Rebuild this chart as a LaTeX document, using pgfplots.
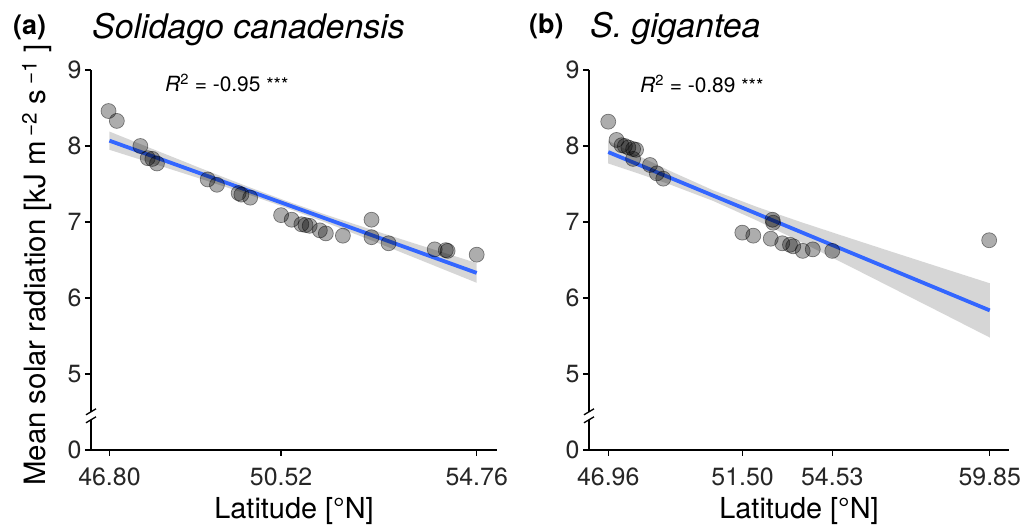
\documentclass[border=0pt]{standalone}
\usepackage{fontspec}
\setmainfont{TeX Gyre Heros}
\usepackage{pgfplots}
\usepackage{pgfplotstable}
\pgfplotsset{compat=1.18}

\definecolor{fitblue}{RGB}{51,102,255}
\definecolor{bandgray}{RGB}{153,153,153}

% Solidago canadensis: latitude [deg N], mean solar radiation
\pgfplotstableread{
lat   rad
46.78 8.46
46.96 8.33
47.47 8.00
47.63 7.84
47.73 7.83
47.83 7.77
48.93 7.56
49.13 7.49
49.60 7.38
49.66 7.36
49.85 7.32
50.52 7.09
50.75 7.03
50.96 6.97
51.05 6.96
51.14 6.95
51.36 6.89
51.49 6.85
51.86 6.82
52.48 7.03
52.48 6.80
52.85 6.72
53.85 6.64
54.09 6.63
54.13 6.62
54.76 6.57
}\canadensis

% fitted line
\pgfplotstableread{
lat   fit
46.80 8.070
54.76 6.330
}\canfit

% 95% confidence band: upper edge left to right, lower edge back
\pgfplotstableread{
lat   y
46.80 8.190
47.80 7.945
48.80 7.702
49.80 7.465
50.60 7.284
51.50 7.094
52.50 6.895
53.50 6.701
54.76 6.460
54.76 6.200
53.50 6.509
52.50 6.753
51.50 6.990
50.60 7.194
49.80 7.364
48.80 7.564
47.80 7.758
46.80 7.950
}\canband

% Solidago gigantea
\pgfplotstableread{
lat   rad
46.96 8.32
47.24 8.08
47.41 8.01
47.52 8.00
47.64 7.98
47.80 7.96
47.90 7.95
47.80 7.83
48.37 7.75
48.60 7.64
48.82 7.57
51.49 6.86
51.86 6.82
52.51 7.03
52.53 6.99
52.45 6.78
52.84 6.72
53.10 6.70
53.21 6.68
53.53 6.62
53.87 6.64
54.53 6.62
59.83 6.76
}\gigantea

\pgfplotstableread{
lat   fit
46.96 7.920
59.85 5.837
}\gigfit

\pgfplotstableread{
lat   y
46.96 8.070
48.00 7.869
49.00 7.680
50.50 7.418
52.00 7.196
53.50 6.995
55.00 6.803
56.50 6.613
58.00 6.425
59.85 6.194
59.85 5.480
58.00 5.847
56.50 6.143
55.00 6.439
53.50 6.731
52.00 7.016
50.50 7.278
49.00 7.500
48.00 7.635
46.96 7.770
}\gigband

\pgfplotsset{
  panel/.style={
    scale only axis,
    height=380bp,
    axis x line*=bottom,
    axis y line*=left,
    axis line style={line width=1.3bp, black},
    ymin=4, ymax=9,
    ytick={4,5,6,7,8,9},
    yticklabels={0,5,6,7,8,9},
    tick align=outside,
    major tick length=6bp,
    every tick/.style={black, line width=1.3bp},
    /pgf/number format/assume math mode=true,
    tick label style={font=\fontsize{25}{25}\selectfont, text=black!85},
    xticklabel style={yshift=-8bp},
    xlabel style={font=\fontsize{29}{29}\selectfont,
      at={(axis description cs:0.5,0)}, anchor=base, yshift=-68bp},
  },
  pts/.style={only marks, mark=*, mark size=7.5bp,
    mark options={fill=black, fill opacity=0.32, draw=black, draw opacity=0.45, line width=0.7bp}},
  fitline/.style={no marks, fitblue, line width=3.8bp},
  band/.style={fill=bandgray, fill opacity=0.4, draw=none, no marks},
}

% axis break drawn over the y axis line
\newcommand{\axisbreak}[1]{%
  \fill[white] ([xshift=-4bp,yshift=-4bp]#1) rectangle ([xshift=4bp,yshift=4bp]#1);
  \draw[line width=1.3bp] ([xshift=-5bp,yshift=-7bp]#1) -- ([xshift=5bp,yshift=-1bp]#1);
  \draw[line width=1.3bp] ([xshift=-5bp,yshift=1bp]#1) -- ([xshift=5bp,yshift=7bp]#1);
}

\begin{document}
\begin{tikzpicture}
\useasboundingbox (0,0) rectangle (1027bp,531bp);

% (a) Solidago canadensis
\begin{axis}[panel,
  at={(91bp,81bp)}, anchor=south west,
  width=406bp,
  xmin=46.40, xmax=55.20,
  xtick={46.80,50.52,54.76},
  xticklabels={46.80,50.52,54.76},
  xlabel={Latitude [°N]},
]
\addplot[pts] table[x=lat, y=rad] {\canadensis};
\addplot[band] table[x=lat, y=y] {\canband} -- cycle;
\addplot[fitline] table[x=lat, y=fit] {\canfit};
\coordinate (brkA) at (rel axis cs:0,0.090);
\end{axis}

% (b) S. gigantea
\begin{axis}[panel,
  at={(589bp,81bp)}, anchor=south west,
  width=420bp,
  xmin=46.31, xmax=60.50,
  xtick={46.96,51.50,54.53,59.85},
  xticklabels={46.96,51.50,54.53,59.85},
  xlabel={Latitude [°N]},
]
\addplot[pts] table[x=lat, y=rad] {\gigantea};
\addplot[band] table[x=lat, y=y] {\gigband} -- cycle;
\addplot[fitline] table[x=lat, y=fit] {\gigfit};
\coordinate (brkB) at (rel axis cs:0,0.090);
\end{axis}

\axisbreak{brkA}
\axisbreak{brkB}

% panel letters, species names and fit statistics
\node[anchor=west, inner sep=0, font=\fontsize{27}{27}\selectfont\bfseries] at (13bp,504bp) {(a)};
\node[anchor=base west, inner sep=0, font=\fontsize{34}{34}\selectfont\itshape] at (92bp,492bp) {Solidago canadensis};
\node[anchor=west, inner sep=0, font=\fontsize{27}{27}\selectfont\bfseries] at (529bp,505bp) {(b)};
\node[anchor=base west, inner sep=0, font=\fontsize{34}{34}\selectfont\itshape] at (590bp,493bp) {S. gigantea};

\node[anchor=base west, inner sep=0, font=\fontsize{21}{21}\selectfont] at (165bp,439bp)
  {\textit{R}\textsuperscript{2} = -0.95 \raisebox{0.5bp}{\fontsize{19}{19}\selectfont ***}};
\node[anchor=base west, inner sep=0, font=\fontsize{21}{21}\selectfont] at (640bp,438bp)
  {\textit{R}\textsuperscript{2} = -0.89 \raisebox{0.5bp}{\fontsize{19}{19}\selectfont ***}};

% y axis title
\node[rotate=90, inner sep=0, font=\fontsize{29.5}{29.5}\selectfont] at (37bp,266bp)
  {Mean solar radiation [kJ m\,\textsuperscript{−2} s\,\textsuperscript{−1} ]};

\end{tikzpicture}
\end{document}
